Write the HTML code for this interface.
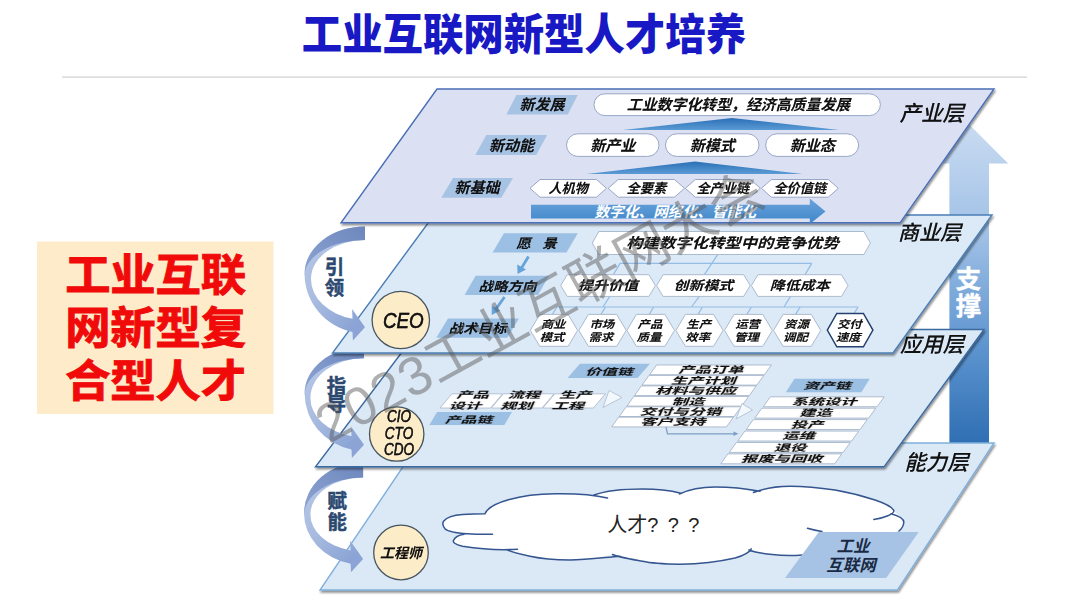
<!DOCTYPE html>
<html lang="zh-CN"><head><meta charset="utf-8"><title>工业互联网新型人才培养</title>
<style>html,body{margin:0;padding:0;background:#fff;}body{width:1080px;height:607px;overflow:hidden;position:relative;font-family:"Liberation Sans","Noto Sans CJK SC",sans-serif;}svg{position:absolute;left:0;top:0;display:block;}text{font-family:"Liberation Sans","Noto Sans CJK SC",sans-serif;}text.s{filter:drop-shadow(0.5px 0.7px 0.5px rgba(0,0,0,0.38));}</style>
</head><body>
<svg width="1080" height="607" viewBox="0 0 1080 607">
<defs>
<linearGradient id="gUp" x1="0" y1="0" x2="0" y2="1"><stop offset="0" stop-color="#c9dbf1"/><stop offset="0.35" stop-color="#9fc0e6"/><stop offset="0.7" stop-color="#5d94cf"/><stop offset="1" stop-color="#2f6fb3"/></linearGradient>
<linearGradient id="gTri" x1="0" y1="0" x2="0" y2="1"><stop offset="0" stop-color="#2a6fb5"/><stop offset="1" stop-color="#5b9bd5"/></linearGradient>
<linearGradient id="gBar" x1="0" y1="0" x2="0" y2="1"><stop offset="0" stop-color="#6aa3db"/><stop offset="1" stop-color="#3f86c9"/></linearGradient>
<linearGradient id="gArrA" x1="1" y1="0" x2="0" y2="1"><stop offset="0" stop-color="#6d87bd"/><stop offset="1" stop-color="#8ea5d3"/></linearGradient>
<linearGradient id="gArrB" x1="0" y1="0" x2="0.6" y2="1"><stop offset="0" stop-color="#b9c9e7"/><stop offset="0.55" stop-color="#a9bce0"/><stop offset="1" stop-color="#8ba4d5"/></linearGradient>
<filter id="sh" x="-5%" y="-5%" width="110%" height="115%"><feGaussianBlur in="SourceAlpha" stdDeviation="1.2"/><feOffset dx="1" dy="1.5"/><feComponentTransfer><feFuncA type="linear" slope="0.45"/></feComponentTransfer><feMerge><feMergeNode/><feMergeNode in="SourceGraphic"/></feMerge></filter>
<filter id="tsh" x="-10%" y="-10%" width="120%" height="130%"><feGaussianBlur in="SourceAlpha" stdDeviation="0.6"/><feOffset dx="0.6" dy="0.8"/><feComponentTransfer><feFuncA type="linear" slope="0.35"/></feComponentTransfer><feMerge><feMergeNode/><feMergeNode in="SourceGraphic"/></feMerge></filter>
</defs>
<text xml:space="preserve" x="0.0" y="0.0" transform="translate(523.9,50.0) scale(1.000,1.080)" font-size="40.4" font-weight="900" fill="#1818c4" text-anchor="middle" >工业互联网新型人才培养</text>
<rect x="62" y="76.5" width="965" height="1.2" fill="#d0d0d0"/>
<rect x="37" y="241.5" width="236.5" height="172.5" fill="#fdebc9"/>
<text xml:space="preserve" x="0.0" y="0.0" transform="translate(155.5,291.4) scale(1.000,0.975)" font-size="45.3" font-weight="bold" fill="#f00a0a" text-anchor="middle" letter-spacing="-0.1" stroke="#f00a0a" stroke-width="1">工业互联</text>
<text xml:space="preserve" x="0.0" y="0.0" transform="translate(155.5,344.0) scale(1.000,0.975)" font-size="45.3" font-weight="bold" fill="#f00a0a" text-anchor="middle" letter-spacing="-0.1" stroke="#f00a0a" stroke-width="1">网新型复</text>
<text xml:space="preserve" x="0.0" y="0.0" transform="translate(155.5,396.6) scale(1.000,0.975)" font-size="45.3" font-weight="bold" fill="#f00a0a" text-anchor="middle" letter-spacing="-0.1" stroke="#f00a0a" stroke-width="1">合型人才</text>
<polygon points="969,124.2 1008.2,163.4 989,163.4 989,443 949.4,443 949.4,163.4 929.8,163.4" fill="url(#gUp)"/>
<polygon points="419.0,443.0 994.0,443.0 897.5,590.0 320.0,590.0" fill="#dbe8f6" stroke="#7fb0dd" stroke-width="1.4" stroke-linejoin="miter" filter="url(#sh)"/>
<text xml:space="preserve" x="936.5" y="470.3" font-size="21.3" font-weight="500" font-style="italic" fill="#111" text-anchor="middle" class="s" >能力层</text>
<path d="M485,513.8 C489,503 520,494 555,493.8 C575,493.5 588,494 594,495 C605,491 625,489 642.5,489 C657,489 670,490.5 680,493.5 C690,489 705,487 715,487 C732,487 745,489 754,492 C765,488 778,486.2 790,486.2 C806,486.2 822,488 835,490 C852,493 866,497 875,500 C884,503 892,507 893.5,510.5 C899,516 904,519 903.8,522.5 C903.5,527 900,531 890,534 L860,560 L802,555 C790,556 780,555.5 772.5,554.5 C762,553 754,551.5 751,549 C748,553 742,556 735,558 C722,561 700,564 680,564.3 C662,564 650,563 642.5,561.3 C630,559 618,557 612.5,554.5 C600,558 585,560 570,560 C552,560 540,558.5 530,556.3 C520,554 512,552 507.5,550 C498,550.5 480,549 462.5,546.3 C455,544.5 452,542 453.8,540 C455,537 459,535 464,534.2 C455,533 447,531 445,528.8 C442,525 443,522 443.8,521 C447,517 455,515 462.5,514.5 C470,514 480,513.8 485,513.8 Z" fill="#fff" stroke="none"/>
<path d="M607.5,498 C595,495 575,493.5 555,493.8 C520,494 489,503 485,513.8 C480,513.8 470,514 462.5,514.5 C455,515 447,517 443.8,521 C443,522 442,525 445,528.8 C447,531 455,533 467.5,533.8 C478,534.4 486,534.4 492.5,534.2 M464,534.2 C459,535 455,537 453.8,540 C452,542 455,544.5 462.5,546.3 C480,549 498,550.5 517.5,549.2 M507.5,550 C512,552 520,554 530,556.3 C540,558.5 552,560 570,560 C585,560 600,558 620,556.2 M612.5,554.5 C618,557 630,559 642.5,561.3 C650,563 662,564 680,564.3 C700,564 722,561 735,558 C742,556 749,553 751.2,548.8 M748.8,550 C754,552 762,553.5 772.5,554.5 C780,555.5 790,556 802.5,555 M807.5,528.2 C812,529.5 816,530.5 822,531.5 M594,495 C605,491 625,489 642.5,489 C657,489 670,490.5 681,493.2 M679.5,494 C690,489 705,487 715,487 C732,487 748,489 760,491.3 M753.5,492.5 C765,488 778,486.2 790,486.2 C806,486.2 822,488 835,490 C852,493 866,497 875,500 C884,503 892,507 893.8,510.5 C894.5,514 884,518 873.8,519.5 M891,513.8 C899,516 904,519 903.8,522.5 C903.5,526 902,528.5 899,531" fill="none" stroke="#34558f" stroke-width="1.5" stroke-linecap="round"/>
<text xml:space="preserve" x="607.2" y="531.8" font-size="20" font-weight="normal" fill="#222" text-anchor="start" word-spacing="3.9">人才? ? ?</text>
<polygon points="818.8,532 918.8,532 886.2,578 785,578" fill="#a6c3e6"/>
<text xml:space="preserve" x="853.0" y="552.0" font-size="16.5" font-weight="bold" font-style="italic" fill="#1a2a44" text-anchor="middle" >工业</text>
<text xml:space="preserve" x="851.0" y="571.0" font-size="16.5" font-weight="bold" font-style="italic" fill="#1a2a44" text-anchor="middle" >互联网</text>
<circle cx="401" cy="552.5" r="27.3" fill="#fdecc8" stroke="#46555f" stroke-width="1.3"/>
<text xml:space="preserve" x="401.0" y="557.5" font-size="14" font-weight="bold" font-style="italic" fill="#111" text-anchor="middle" class="s" >工程师</text>
<path d="M363.1,462.0 A59.1,51.5 0 0 0 304.0,513.5 A59.1,51.4 0 0 0 350.6,563.7 L351.0,572.3 L363.1,558.9 L350.2,540.8 L350.6,550.4 A52.7,37.0 0 0 1 310.4,514.5 A52.7,37.0 0 0 1 363.1,477.5 Z" fill="url(#gArrB)"/>
<path d="M363.1,462.0 A59.1,51.5 0 0 0 304.0,513.5 L304.0,515.5 A59.1,38.0 0 0 1 363.1,477.5 Z" fill="url(#gArrA)"/>
<text xml:space="preserve" x="337.3" y="507.5" font-size="19.4" font-weight="bold" fill="#2b4970" text-anchor="middle" stroke="#2c4a73" stroke-width="0.5">赋</text>
<text xml:space="preserve" x="337.3" y="528.5" font-size="19.4" font-weight="bold" fill="#2b4970" text-anchor="middle" stroke="#2c4a73" stroke-width="0.5">能</text>
<polygon points="419.0,329.5 984.0,329.5 884.0,466.8 315.5,466.8" fill="#dbe8f6" stroke="#3b6aa0" stroke-width="1.4" stroke-linejoin="miter" filter="url(#sh)"/>
<text xml:space="preserve" x="932.0" y="352.0" font-size="21.3" font-weight="500" font-style="italic" fill="#111" text-anchor="middle" class="s" >应用层</text>
<polygon points="580.0,363.8 650.0,363.8 637.5,378.1 567.5,378.1" fill="#9cc0e4" stroke="none" stroke-width="0" />
<text xml:space="preserve" x="0.0" y="0.0" transform="translate(609.0,375.1) scale(1.720,1.000)" font-size="9.2" font-weight="bold" font-style="italic" fill="#111" text-anchor="middle" class="s" >价值链</text>
<polygon points="656.6,365.0 771.4,365.0 764.5,374.7 649.7,374.7" fill="#fff" stroke="#9fafc4" stroke-width="0.8" />
<text xml:space="preserve" x="0.0" y="0.0" transform="translate(710.8,373.2) scale(1.750,1.000)" font-size="9.3" font-weight="bold" font-style="italic" fill="#111" text-anchor="middle" class="s" >产品订单</text>
<polygon points="649.0,375.4 763.8,375.4 756.9,385.1 642.1,385.1" fill="#fff" stroke="#9fafc4" stroke-width="0.8" />
<text xml:space="preserve" x="0.0" y="0.0" transform="translate(703.2,383.6) scale(1.750,1.000)" font-size="9.3" font-weight="bold" font-style="italic" fill="#111" text-anchor="middle" class="s" >生产计划</text>
<polygon points="641.4,385.9 756.2,385.9 749.3,395.6 634.5,395.6" fill="#fff" stroke="#9fafc4" stroke-width="0.8" />
<text xml:space="preserve" x="0.0" y="0.0" transform="translate(695.6,394.1) scale(1.750,1.000)" font-size="9.3" font-weight="bold" font-style="italic" fill="#111" text-anchor="middle" class="s" >材料与供应</text>
<polygon points="633.8,396.4 748.6,396.4 741.7,406.1 626.9,406.1" fill="#fff" stroke="#9fafc4" stroke-width="0.8" />
<text xml:space="preserve" x="0.0" y="0.0" transform="translate(688.0,404.6) scale(1.750,1.000)" font-size="9.3" font-weight="bold" font-style="italic" fill="#111" text-anchor="middle" class="s" >制造</text>
<polygon points="626.2,406.8 741.0,406.8 734.1,416.5 619.3,416.5" fill="#fff" stroke="#9fafc4" stroke-width="0.8" />
<text xml:space="preserve" x="0.0" y="0.0" transform="translate(680.4,415.0) scale(1.750,1.000)" font-size="9.3" font-weight="bold" font-style="italic" fill="#111" text-anchor="middle" class="s" >交付与分销</text>
<polygon points="618.6,417.2 733.4,417.2 726.5,426.9 611.7,426.9" fill="#fff" stroke="#9fafc4" stroke-width="0.8" />
<text xml:space="preserve" x="0.0" y="0.0" transform="translate(672.8,425.4) scale(1.750,1.000)" font-size="9.3" font-weight="bold" font-style="italic" fill="#111" text-anchor="middle" class="s" >客户支持</text>
<polygon points="452.0,393.8 502.6,393.8 490.6,408.0 440.0,408.0" fill="#fff" stroke="#a9b8cc" stroke-width="0.8" />
<text xml:space="preserve" x="0.0" y="0.0" transform="translate(472.5,398.4) scale(1.800,1.000)" font-size="9" font-weight="bold" font-style="italic" fill="#111" text-anchor="middle" class="s" >产品</text>
<text xml:space="preserve" x="0.0" y="0.0" transform="translate(465.0,408.9) scale(1.800,1.000)" font-size="9" font-weight="bold" font-style="italic" fill="#111" text-anchor="middle" class="s" >设计</text>
<polygon points="503.4,393.8 554.0,393.8 542.0,408.0 491.4,408.0" fill="#fff" stroke="#a9b8cc" stroke-width="0.8" />
<text xml:space="preserve" x="0.0" y="0.0" transform="translate(523.9,398.4) scale(1.800,1.000)" font-size="9" font-weight="bold" font-style="italic" fill="#111" text-anchor="middle" class="s" >流程</text>
<text xml:space="preserve" x="0.0" y="0.0" transform="translate(516.4,408.9) scale(1.800,1.000)" font-size="9" font-weight="bold" font-style="italic" fill="#111" text-anchor="middle" class="s" >规划</text>
<polygon points="554.8,393.8 605.4,393.8 593.4,408.0 542.8,408.0" fill="#fff" stroke="#a9b8cc" stroke-width="0.8" />
<text xml:space="preserve" x="0.0" y="0.0" transform="translate(575.3,398.4) scale(1.800,1.000)" font-size="9" font-weight="bold" font-style="italic" fill="#111" text-anchor="middle" class="s" >生产</text>
<text xml:space="preserve" x="0.0" y="0.0" transform="translate(567.8,408.9) scale(1.800,1.000)" font-size="9" font-weight="bold" font-style="italic" fill="#111" text-anchor="middle" class="s" >工程</text>
<polygon points="609,390.5 622,397.5 603,407.5" fill="#f3f8fd" stroke="#b0bfd2" stroke-width="0.9"/>
<polygon points="742,403.5 752.5,410 736,419" fill="#f3f8fd" stroke="#b0bfd2" stroke-width="0.9"/>
<polygon points="437.0,412.0 512.0,412.0 504.3,425.0 429.3,425.0" fill="#9cc0e4" stroke="none" stroke-width="0" />
<text xml:space="preserve" x="0.0" y="0.0" transform="translate(468.5,422.6) scale(1.720,1.000)" font-size="9.2" font-weight="bold" font-style="italic" fill="#111" text-anchor="middle" class="s" >产品链</text>
<path d="M666,427 L667.5,433.8 L735,433.8" fill="none" stroke="#7f9fc4" stroke-width="1.3"/>
<polygon points="738.5,433.8 733.5,431.6 733.5,436" fill="#7f9fc4"/>
<polygon points="794.4,378.7 869.8,378.7 861.3,392.2 785.9,392.2" fill="#9cc0e4" stroke="none" stroke-width="0" />
<text xml:space="preserve" x="0.0" y="0.0" transform="translate(827.0,389.4) scale(1.720,1.000)" font-size="9.2" font-weight="bold" font-style="italic" fill="#111" text-anchor="middle" class="s" >资产链</text>
<polygon points="770.3,396.8 884.2,396.8 877.2,406.7 763.3,406.7" fill="#fff" stroke="#9fafc4" stroke-width="0.8" />
<text xml:space="preserve" x="0.0" y="0.0" transform="translate(824.1,405.0) scale(1.750,1.000)" font-size="9.3" font-weight="bold" font-style="italic" fill="#111" text-anchor="middle" class="s" >系统设计</text>
<polygon points="761.8,408.2 875.7,408.2 868.7,418.1 754.8,418.1" fill="#fff" stroke="#9fafc4" stroke-width="0.8" />
<text xml:space="preserve" x="0.0" y="0.0" transform="translate(815.6,416.4) scale(1.750,1.000)" font-size="9.3" font-weight="bold" font-style="italic" fill="#111" text-anchor="middle" class="s" >建造</text>
<polygon points="753.3,419.6 867.2,419.6 860.2,429.5 746.3,429.5" fill="#fff" stroke="#9fafc4" stroke-width="0.8" />
<text xml:space="preserve" x="0.0" y="0.0" transform="translate(807.1,427.8) scale(1.750,1.000)" font-size="9.3" font-weight="bold" font-style="italic" fill="#111" text-anchor="middle" class="s" >投产</text>
<polygon points="744.8,431.1 858.7,431.1 851.7,441.0 737.8,441.0" fill="#fff" stroke="#9fafc4" stroke-width="0.8" />
<text xml:space="preserve" x="0.0" y="0.0" transform="translate(798.6,439.3) scale(1.750,1.000)" font-size="9.3" font-weight="bold" font-style="italic" fill="#111" text-anchor="middle" class="s" >运维</text>
<polygon points="736.3,442.5 850.2,442.5 843.2,452.4 729.3,452.4" fill="#fff" stroke="#9fafc4" stroke-width="0.8" />
<text xml:space="preserve" x="0.0" y="0.0" transform="translate(790.1,450.7) scale(1.750,1.000)" font-size="9.3" font-weight="bold" font-style="italic" fill="#111" text-anchor="middle" class="s" >退役</text>
<polygon points="727.8,453.9 841.7,453.9 834.7,463.8 720.8,463.8" fill="#fff" stroke="#9fafc4" stroke-width="0.8" />
<text xml:space="preserve" x="0.0" y="0.0" transform="translate(781.6,462.1) scale(1.750,1.000)" font-size="9.3" font-weight="bold" font-style="italic" fill="#111" text-anchor="middle" class="s" >报废与回收</text>
<circle cx="396.7" cy="434" r="27.2" fill="#fdecc8" stroke="#46555f" stroke-width="1.3"/>
<text xml:space="preserve" x="0.0" y="0.0" transform="translate(399.0,422.4) scale(0.860,1.000)" font-size="15.8" font-weight="normal" font-style="italic" fill="#111" text-anchor="middle" class="s" stroke="#111" stroke-width="0.4">CIO</text>
<text xml:space="preserve" x="0.0" y="0.0" transform="translate(399.0,438.5) scale(0.860,1.000)" font-size="15.8" font-weight="normal" font-style="italic" fill="#111" text-anchor="middle" class="s" stroke="#111" stroke-width="0.4">CTO</text>
<text xml:space="preserve" x="0.0" y="0.0" transform="translate(399.0,454.6) scale(0.860,1.000)" font-size="15.8" font-weight="normal" font-style="italic" fill="#111" text-anchor="middle" class="s" stroke="#111" stroke-width="0.4">CDO</text>
<path d="M364.0,347.0 A59.4,46.6 0 0 0 304.6,393.6 A59.4,57.1 0 0 0 351.5,449.4 L351.9,458.0 L364.0,444.7 L351.1,426.6 L351.5,436.2 A53.6,39.4 0 0 1 310.4,397.9 A53.6,39.7 0 0 1 364.0,358.2 Z" fill="url(#gArrB)"/>
<path d="M364.0,347.0 A59.4,46.6 0 0 0 304.6,393.6 L304.6,395.6 A59.4,37.4 0 0 1 364.0,358.2 Z" fill="url(#gArrA)"/>
<text xml:space="preserve" x="336.5" y="392.8" font-size="19.4" font-weight="bold" fill="#2b4970" text-anchor="middle" stroke="#2c4a73" stroke-width="0.5">指</text>
<text xml:space="preserve" x="336.5" y="411.2" font-size="19.4" font-weight="bold" fill="#2b4970" text-anchor="middle" stroke="#2c4a73" stroke-width="0.5">导</text>
<polygon points="434.0,215.0 992.0,215.0 893.0,353.0 332.5,353.0" fill="#dce9f7" stroke="#4a7fb5" stroke-width="1.4" stroke-linejoin="miter" filter="url(#sh)"/>
<text xml:space="preserve" x="0.0" y="0.0" transform="translate(929.5,239.8) scale(1.030,1.000)" font-size="20.6" font-weight="500" font-style="italic" fill="#111" text-anchor="middle" class="s" >商业层</text>
<g fill="none" stroke="#93bde6" stroke-width="1.2">
<path d="M717.8,254.4 L704.4,274.6"/>
<path d="M620,263.4 L811.8,263.4"/>
<path d="M620,263.4 L613.4,274.6"/>
<path d="M811.8,263.4 L805,274.6"/>
<path d="M556.9,307 L858.1,307"/>
<path d="M556.9,307 L552.4,314.4"/>
<path d="M605.5,307 L601.0,314.4"/>
<path d="M653.7,307 L649.2,314.4"/>
<path d="M702.5,307 L698.0,314.4"/>
<path d="M751.4,307 L746.9,314.4"/>
<path d="M800.1,307 L795.6,314.4"/>
<path d="M858.1,307 L853.6,314.4"/>
<path d="M609.8,296.4 L603.0,307"/>
<path d="M699.3,296.4 L691.5,307"/>
<path d="M790.5,296.4 L784.0,307"/>
</g>
<polygon points="503.9,233.3 577.8,233.3 566.5,252.5 492.6,252.5" fill="#9cc0e4" stroke="none" stroke-width="0" />
<text xml:space="preserve" x="0.0" y="0.0" transform="translate(536.5,248.0) scale(1.130,1.000)" font-size="12.8" font-weight="bold" font-style="italic" fill="#111" text-anchor="middle" class="s" word-spacing="1.5">愿  景</text>
<polygon points="592.3,243.0 598.8,231.5 863.9,231.5 870.4,243.0 863.9,254.5 598.8,254.5" fill="#fff" stroke="#acbbce" stroke-width="1" />
<text xml:space="preserve" x="0.0" y="0.0" transform="translate(732.5,248.3) scale(1.170,1.000)" font-size="14" font-weight="bold" font-style="italic" fill="#111" text-anchor="middle" class="s" >构建数字化转型中的竞争优势</text>
<path d="M528.5,256.5 L521.5,268" stroke="#66a3da" stroke-width="2.8" fill="none"/>
<polygon points="517.6,274 517.2,264.6 526,269.4" fill="#66a3da"/>
<path d="M504.5,297 L496,309" stroke="#66a3da" stroke-width="2.8" fill="none"/>
<polygon points="491.8,315 491.6,305.6 500.4,310.4" fill="#66a3da"/>
<polygon points="475.6,275.8 549.0,275.8 538.0,295.0 464.6,295.0" fill="#9cc0e4" stroke="none" stroke-width="0" />
<text xml:space="preserve" x="0.0" y="0.0" transform="translate(507.5,290.6) scale(1.130,1.000)" font-size="12.8" font-weight="bold" font-style="italic" fill="#111" text-anchor="middle" class="s" >战略方向</text>
<polygon points="560.7,285.5 567.2,274.7 648.9,274.7 655.4,285.5 648.9,296.4 567.2,296.4" fill="#fff" stroke="#acbbce" stroke-width="1" />
<text xml:space="preserve" x="0.0" y="0.0" transform="translate(608.0,290.3) scale(1.180,1.000)" font-size="12.7" font-weight="bold" font-style="italic" fill="#111" text-anchor="middle" class="s" >提升价值</text>
<polygon points="656.6,285.5 663.1,274.7 743.7,274.7 750.2,285.5 743.7,296.4 663.1,296.4" fill="#fff" stroke="#acbbce" stroke-width="1" />
<text xml:space="preserve" x="0.0" y="0.0" transform="translate(703.4,290.3) scale(1.180,1.000)" font-size="12.7" font-weight="bold" font-style="italic" fill="#111" text-anchor="middle" class="s" >创新模式</text>
<polygon points="751.4,285.5 757.9,274.7 841.5,274.7 848.0,285.5 841.5,296.4 757.9,296.4" fill="#fff" stroke="#acbbce" stroke-width="1" />
<text xml:space="preserve" x="0.0" y="0.0" transform="translate(799.7,290.3) scale(1.180,1.000)" font-size="12.7" font-weight="bold" font-style="italic" fill="#111" text-anchor="middle" class="s" >降低成本</text>
<polygon points="448.0,318.4 519.0,318.4 507.3,337.7 436.3,337.7" fill="#9cc0e4" stroke="none" stroke-width="0" />
<text xml:space="preserve" x="0.0" y="0.0" transform="translate(477.5,333.0) scale(1.130,1.000)" font-size="12.8" font-weight="bold" font-style="italic" fill="#111" text-anchor="middle" class="s" >战术目标</text>
<polygon points="530.3,330.4 539.8,314.4 568.1,314.4 577.6,330.4 568.1,346.3 539.8,346.3" fill="#fff" stroke="#acbbce" stroke-width="1" />
<text xml:space="preserve" x="0.0" y="0.0" transform="translate(553.1,328.4) scale(1.170,1.000)" font-size="10.6" font-weight="bold" font-style="italic" fill="#111" text-anchor="middle" class="s" >商业</text>
<text xml:space="preserve" x="0.0" y="0.0" transform="translate(552.1,341.3) scale(1.170,1.000)" font-size="10.6" font-weight="bold" font-style="italic" fill="#111" text-anchor="middle" class="s" >模式</text>
<polygon points="578.9,330.4 588.4,314.4 616.7,314.4 626.2,330.4 616.7,346.3 588.4,346.3" fill="#fff" stroke="#acbbce" stroke-width="1" />
<text xml:space="preserve" x="0.0" y="0.0" transform="translate(601.8,328.4) scale(1.170,1.000)" font-size="10.6" font-weight="bold" font-style="italic" fill="#111" text-anchor="middle" class="s" >市场</text>
<text xml:space="preserve" x="0.0" y="0.0" transform="translate(600.8,341.3) scale(1.170,1.000)" font-size="10.6" font-weight="bold" font-style="italic" fill="#111" text-anchor="middle" class="s" >需求</text>
<polygon points="626.9,330.4 636.4,314.4 665.0,314.4 674.5,330.4 665.0,346.3 636.4,346.3" fill="#fff" stroke="#acbbce" stroke-width="1" />
<text xml:space="preserve" x="0.0" y="0.0" transform="translate(649.9,328.4) scale(1.170,1.000)" font-size="10.6" font-weight="bold" font-style="italic" fill="#111" text-anchor="middle" class="s" >产品</text>
<text xml:space="preserve" x="0.0" y="0.0" transform="translate(648.9,341.3) scale(1.170,1.000)" font-size="10.6" font-weight="bold" font-style="italic" fill="#111" text-anchor="middle" class="s" >质量</text>
<polygon points="675.9,330.4 685.4,314.4 713.6,314.4 723.1,330.4 713.6,346.3 685.4,346.3" fill="#fff" stroke="#acbbce" stroke-width="1" />
<text xml:space="preserve" x="0.0" y="0.0" transform="translate(698.7,328.4) scale(1.170,1.000)" font-size="10.6" font-weight="bold" font-style="italic" fill="#111" text-anchor="middle" class="s" >生产</text>
<text xml:space="preserve" x="0.0" y="0.0" transform="translate(697.7,341.3) scale(1.170,1.000)" font-size="10.6" font-weight="bold" font-style="italic" fill="#111" text-anchor="middle" class="s" >效率</text>
<polygon points="724.5,330.4 734.0,314.4 762.8,314.4 772.3,330.4 762.8,346.3 734.0,346.3" fill="#fff" stroke="#acbbce" stroke-width="1" />
<text xml:space="preserve" x="0.0" y="0.0" transform="translate(747.6,328.4) scale(1.170,1.000)" font-size="10.6" font-weight="bold" font-style="italic" fill="#111" text-anchor="middle" class="s" >运营</text>
<text xml:space="preserve" x="0.0" y="0.0" transform="translate(746.6,341.3) scale(1.170,1.000)" font-size="10.6" font-weight="bold" font-style="italic" fill="#111" text-anchor="middle" class="s" >管理</text>
<polygon points="773.5,330.4 783.0,314.4 811.3,314.4 820.8,330.4 811.3,346.3 783.0,346.3" fill="#fff" stroke="#acbbce" stroke-width="1" />
<text xml:space="preserve" x="0.0" y="0.0" transform="translate(796.4,328.4) scale(1.170,1.000)" font-size="10.6" font-weight="bold" font-style="italic" fill="#111" text-anchor="middle" class="s" >资源</text>
<text xml:space="preserve" x="0.0" y="0.0" transform="translate(795.4,341.3) scale(1.170,1.000)" font-size="10.6" font-weight="bold" font-style="italic" fill="#111" text-anchor="middle" class="s" >调配</text>
<polygon points="827.3,330.1 836.8,313.5 863.4,313.5 872.9,330.1 863.4,346.8 836.8,346.8" fill="#fff" stroke="#24406e" stroke-width="1.5" />
<text xml:space="preserve" x="0.0" y="0.0" transform="translate(849.3,328.4) scale(1.170,1.000)" font-size="10.6" font-weight="bold" font-style="italic" fill="#111" text-anchor="middle" class="s" >交付</text>
<text xml:space="preserve" x="0.0" y="0.0" transform="translate(848.3,341.3) scale(1.170,1.000)" font-size="10.6" font-weight="bold" font-style="italic" fill="#111" text-anchor="middle" class="s" >速度</text>
<circle cx="400.8" cy="320" r="28.7" fill="#fdecc8" stroke="#46555f" stroke-width="1.3"/>
<text xml:space="preserve" x="0.0" y="0.0" transform="translate(403.3,327.6) scale(0.870,1.000)" font-size="21.6" font-weight="normal" font-style="italic" fill="#111" text-anchor="middle" class="s" stroke="#111" stroke-width="0.5">CEO</text>
<path d="M365.0,226.5 A60.4,47.5 0 0 0 304.6,274.0 A60.4,59.2 0 0 0 352.5,331.9 L352.9,340.5 L365.0,327.2 L352.1,309.1 L352.5,318.7 A54.0,40.8 0 0 1 311.0,279.0 A54.0,39.0 0 0 1 365.0,240.0 Z" fill="url(#gArrB)"/>
<path d="M365.0,226.5 A60.4,47.5 0 0 0 304.6,274.0 L304.6,276.0 A60.4,36.0 0 0 1 365.0,240.0 Z" fill="url(#gArrA)"/>
<text xml:space="preserve" x="334.5" y="274.3" font-size="19.4" font-weight="bold" fill="#2b4970" text-anchor="middle" stroke="#2c4a73" stroke-width="0.5">引</text>
<text xml:space="preserve" x="334.5" y="295.3" font-size="19.4" font-weight="bold" fill="#2b4970" text-anchor="middle" stroke="#2c4a73" stroke-width="0.5">领</text>
<polygon points="437.0,89.0 994.0,89.0 900.0,222.8 341.0,222.8" fill="#dbe1f3" stroke="#4a6fb5" stroke-width="1.4" stroke-linejoin="miter" filter="url(#sh)"/>
<text xml:space="preserve" x="931.8" y="121.3" font-size="21.5" font-weight="500" font-style="italic" fill="#111" text-anchor="middle" class="s" >产业层</text>
<polygon points="516.4,95.0 577.8,95.0 567.8,114.5 506.4,114.5" fill="#a7c3e3" stroke="none" stroke-width="0" />
<text xml:space="preserve" x="542.0" y="110.4" font-size="15" font-weight="bold" font-style="italic" fill="#111" text-anchor="middle" class="s" >新发展</text>
<rect x="594" y="93.8" width="286.4" height="21.8" rx="10.9" fill="#fff" stroke="#97a7c6" stroke-width="1"/>
<text xml:space="preserve" x="738.5" y="110.3" font-size="14.9" font-weight="bold" font-style="italic" fill="#111" text-anchor="middle" class="s" >工业数字化转型，经济高质量发展</text>
<polygon points="622.8,130 732,118 839,130" fill="url(#gTri)"/>
<polygon points="486.3,135.0 547.2,135.0 536.2,155.0 475.3,155.0" fill="#a7c3e3" stroke="none" stroke-width="0" />
<text xml:space="preserve" x="511.5" y="150.6" font-size="15" font-weight="bold" font-style="italic" fill="#111" text-anchor="middle" class="s" >新动能</text>
<rect x="566.5" y="133.8" width="92.5" height="22.6" rx="11.3" fill="#fff" stroke="#97a7c6" stroke-width="1"/>
<text xml:space="preserve" x="612.8" y="150.6" font-size="15" font-weight="bold" font-style="italic" fill="#111" text-anchor="middle" class="s" >新产业</text>
<rect x="665.5" y="133.8" width="93.5" height="22.6" rx="11.3" fill="#fff" stroke="#97a7c6" stroke-width="1"/>
<text xml:space="preserve" x="712.2" y="150.6" font-size="15" font-weight="bold" font-style="italic" fill="#111" text-anchor="middle" class="s" >新模式</text>
<rect x="765.7" y="133.8" width="92.9" height="22.6" rx="11.3" fill="#fff" stroke="#97a7c6" stroke-width="1"/>
<text xml:space="preserve" x="812.2" y="150.6" font-size="15" font-weight="bold" font-style="italic" fill="#111" text-anchor="middle" class="s" >新业态</text>
<polygon points="586.5,174 695,161.4 802.7,174" fill="url(#gTri)"/>
<polygon points="453.0,178.0 513.0,178.0 501.3,197.7 441.3,197.7" fill="#a7c3e3" stroke="none" stroke-width="0" />
<text xml:space="preserve" x="477.0" y="193.4" font-size="15" font-weight="bold" font-style="italic" fill="#111" text-anchor="middle" class="s" >新基础</text>
<polygon points="530.0,188.3 540.0,179.5 596.5,179.5 606.5,188.3 596.5,197.2 540.0,197.2" fill="#fff" stroke="#97a7c6" stroke-width="1" />
<text xml:space="preserve" x="568.2" y="193.2" font-size="13.2" font-weight="bold" font-style="italic" fill="#111" text-anchor="middle" class="s" >人机物</text>
<polygon points="608.2,188.3 618.2,179.5 674.5,179.5 684.5,188.3 674.5,197.2 618.2,197.2" fill="#fff" stroke="#97a7c6" stroke-width="1" />
<text xml:space="preserve" x="646.4" y="193.2" font-size="13.2" font-weight="bold" font-style="italic" fill="#111" text-anchor="middle" class="s" >全要素</text>
<polygon points="685.3,188.3 695.3,179.5 750.3,179.5 760.3,188.3 750.3,197.2 695.3,197.2" fill="#fff" stroke="#97a7c6" stroke-width="1" />
<text xml:space="preserve" x="722.8" y="193.2" font-size="13.2" font-weight="bold" font-style="italic" fill="#111" text-anchor="middle" class="s" >全产业链</text>
<polygon points="761.4,188.3 771.4,179.5 828.3,179.5 838.3,188.3 828.3,197.2 771.4,197.2" fill="#fff" stroke="#97a7c6" stroke-width="1" />
<text xml:space="preserve" x="799.8" y="193.2" font-size="13.2" font-weight="bold" font-style="italic" fill="#111" text-anchor="middle" class="s" >全价值链</text>
<polygon points="531,204.7 809.8,204.7 809.8,198.5 825.5,211.6 809.8,224 809.8,218.5 531,218.5" fill="url(#gBar)"/>
<text xml:space="preserve" x="675.2" y="216.6" font-size="14.7" font-weight="bold" font-style="italic" fill="#fff" text-anchor="middle" >数字化、网络化、智能化</text>
<text xml:space="preserve" x="968.5" y="288.0" font-size="25.5" font-weight="bold" fill="#fff" text-anchor="middle" stroke="#fff" stroke-width="0.4">支</text>
<text xml:space="preserve" x="968.5" y="314.5" font-size="25.5" font-weight="bold" fill="#fff" text-anchor="middle" stroke="#fff" stroke-width="0.4">撑</text>
<text transform="translate(328.8,444.3) rotate(-28.8)" font-size="54" font-weight="400" fill="#585858" fill-opacity="0.47"><tspan letter-spacing="1.1">2023</tspan>工业互联网大会</text>
</svg>
</body></html>
